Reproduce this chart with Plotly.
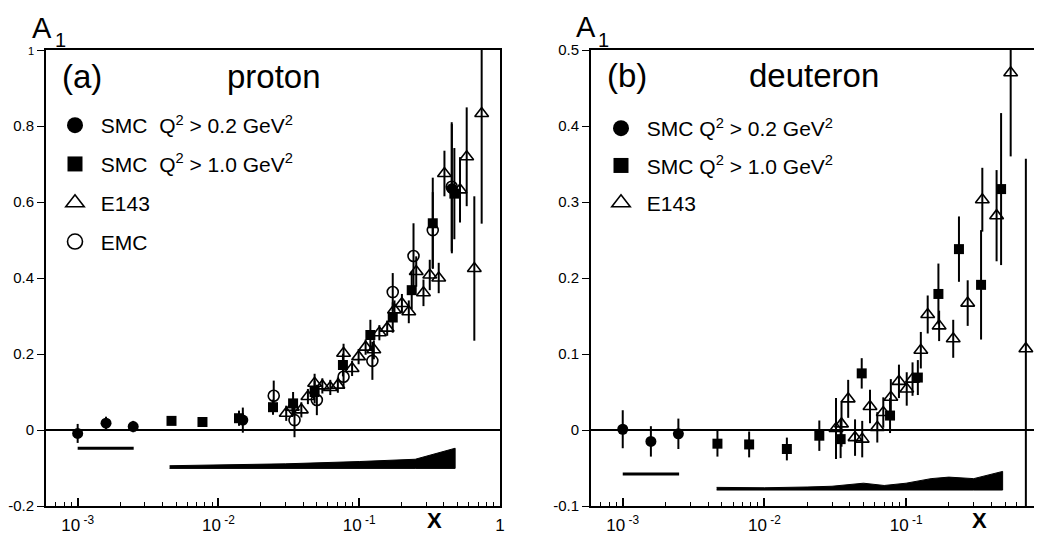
import plotly.graph_objects as go

# ---------------- data: proton ----------------
smc02_p_x = [0.001, 0.00159, 0.00248, 0.0149, 0.455]
smc02_p_y = [-0.009, 0.018, 0.009, 0.026, 0.635]
smc02_p_e = [0.025, 0.017, 0.015, 0.033, 0.17]

smc10_p_x = [0.00464, 0.0077, 0.014, 0.0244, 0.0339, 0.0482, 0.0766, 0.12, 0.173, 0.236, 0.333, 0.474]
smc10_p_y = [0.024, 0.021, 0.031, 0.06, 0.07, 0.10, 0.171, 0.25, 0.296, 0.368, 0.544, 0.622]
smc10_p_e = [0.008, 0.008, 0.02, 0.02, 0.03, 0.03, 0.03, 0.04, 0.04, 0.05, 0.12, 0.12]

e143_p_x = [0.0303, 0.0335, 0.0388, 0.0432, 0.0482, 0.0547, 0.0623, 0.0705, 0.0774, 0.089,
            0.099, 0.111, 0.127, 0.139, 0.158, 0.178, 0.201, 0.225, 0.254, 0.286,
            0.317, 0.367, 0.403, 0.52, 0.58, 0.657, 0.741]
e143_p_y = [0.044, 0.06, 0.053, 0.088, 0.123, 0.116, 0.112, 0.118, 0.202, 0.162,
            0.193, 0.218, 0.211, 0.256, 0.268, 0.316, 0.333, 0.311, 0.417, 0.361,
            0.408, 0.40, 0.675, 0.632, 0.719, 0.425, 0.833]
e143_p_e = [0.02, 0.02, 0.02, 0.02, 0.025, 0.02, 0.02, 0.02, 0.025, 0.02,
            0.02, 0.02, 0.025, 0.02, 0.02, 0.025, 0.025, 0.03, 0.04, 0.035,
            0.04, 0.04, 0.06, 0.086, 0.13, 0.19, 0.29]

emc_p_x = [0.0247, 0.0347, 0.05, 0.0774, 0.124, 0.173, 0.243, 0.333, 0.454]
emc_p_y = [0.09, 0.026, 0.079, 0.14, 0.182, 0.363, 0.458, 0.526, 0.64]
emc_p_e = [0.04, 0.045, 0.04, 0.03, 0.05, 0.05, 0.086, 0.1, 0.17]

sys_p_x = [0.0045, 0.01, 0.03, 0.1, 0.2, 0.25, 0.48]
sys_p_top = [-0.094, -0.092, -0.089, -0.083, -0.079, -0.077, -0.048]
sys_p_bot = [-0.101, -0.101, -0.101, -0.101, -0.101, -0.101, -0.101]
sys_p_low_x = [0.001, 0.0025]
sys_p_low_y = [-0.048, -0.048]

# ---------------- data: deuteron ----------------
smc02_d_x = [0.001, 0.00158, 0.00247]
smc02_d_y = [0.001, -0.015, -0.005]
smc02_d_e = [0.025, 0.02, 0.02]

smc10_d_x = [0.00466, 0.0078, 0.0144, 0.0244, 0.0345, 0.0486, 0.077, 0.121, 0.169, 0.236, 0.338, 0.468]
smc10_d_y = [-0.018, -0.019, -0.025, -0.0075, -0.012, 0.0745, 0.019, 0.069, 0.179, 0.238, 0.191, 0.317]
smc10_d_e = [0.017, 0.017, 0.015, 0.02, 0.025, 0.02, 0.023, 0.023, 0.04, 0.043, 0.072, 0.1]

e143_d_x = [0.032, 0.035, 0.039, 0.0436, 0.049, 0.0556, 0.0626, 0.069, 0.078, 0.089, 0.101,
            0.111, 0.127, 0.142, 0.171, 0.215, 0.272, 0.345, 0.435, 0.547, 0.70]
e143_d_y = [0.002, 0.008, 0.041, -0.01, -0.012, 0.031, 0.0035, 0.023, 0.043, 0.064, 0.054,
            0.067, 0.105, 0.152, 0.137, 0.12, 0.167, 0.303, 0.282, 0.47, 0.107]
e143_d_e = [0.04, 0.03, 0.025, 0.024, 0.024, 0.022, 0.02, 0.02, 0.024, 0.022, 0.022,
            0.022, 0.024, 0.025, 0.02, 0.025, 0.03, 0.042, 0.06, 0.11, 0.25]

sys_d_x = [0.0046, 0.01, 0.02, 0.03, 0.05, 0.07, 0.1, 0.15, 0.2, 0.3, 0.48]
sys_d_top = [-0.0755, -0.076, -0.075, -0.074, -0.070, -0.073, -0.070, -0.064, -0.062, -0.064, -0.0545]
sys_d_bot = [-0.079] * 11
sys_d_low_x = [0.001, 0.0025]
sys_d_low_y = [-0.058, -0.058]

# tick labels
p_ytick_vals = [-0.2, 0, 0.2, 0.4, 0.6, 0.8, 1]
p_ytick_text = ["-0.2", "0", "0.2", "0.4", "0.6", "0.8", "<span style='font-size:11px'>1</span>"]
d_ytick_vals = [-0.1, 0, 0.1, 0.2, 0.3, 0.4, 0.5]
d_ytick_text = ["-0.1", "0", "0.1", "0.2", "0.3", "0.4", "0.5"]
p_xtick_vals = [1e-3, 1e-2, 1e-1, 1]
p_xtick_text = ["10<sup> -3</sup>", "10<sup> -2</sup>", "10<sup> -1</sup>", "1"]
d_xtick_vals = [1e-3, 1e-2, 1e-1]
d_xtick_text = ["10<sup> -3</sup>", "10<sup> -2</sup>", "10<sup> -1</sup>"]

NB = "\u00a0"
lab_smc02_p = f"{NB}SMC{NB}{NB}Q<sup>2</sup> > 0.2 GeV<sup>2</sup>"
lab_smc10_p = f"{NB}SMC{NB}{NB}Q<sup>2</sup> > 1.0 GeV<sup>2</sup>"
lab_e143_p = f"{NB}E143"
lab_emc_p = f"{NB}EMC"
lab_smc02_d = f"{NB}SMC Q<sup>2</sup> > 0.2 GeV<sup>2</sup>"
lab_smc10_d = f"{NB}SMC Q<sup>2</sup> > 1.0 GeV<sup>2</sup>"
lab_e143_d = f"{NB}E143"

FONT = "Liberation Sans, Arial, Helvetica, sans-serif"

fig = go.Figure()


def err(arr):
    return dict(type="data", array=arr, visible=True, width=0, thickness=2, color="black")


def band(x, top, bot, xa, ya):
    fig.add_trace(go.Scatter(x=list(x) + list(x)[::-1], y=list(top) + list(bot)[::-1],
                             fill="toself", fillcolor="black", mode="lines",
                             line=dict(color="black", width=1), showlegend=False,
                             hoverinfo="skip", xaxis=xa, yaxis=ya))


SYM = {
    "smc02": dict(symbol="circle", color="black"),
    "smc10": dict(symbol="square", color="black"),
    "e143": dict(symbol="triangle-up-open", color="black", line=dict(width=1.6, color="black")),
    "emc": dict(symbol="circle-open", color="black", line=dict(width=1.6, color="black")),
}
DATA_SIZE = {"smc02": 11, "smc10": 10, "e143": 12, "emc": 11}
LEG_SIZE = {"smc02": 16, "smc10": 15, "e143": 17, "emc": 15}


def series(x, y, e, kind, xa, ya):
    fig.add_trace(go.Scatter(x=x, y=y, error_y=err(e), mode="markers",
                             marker=dict(SYM[kind], size=DATA_SIZE[kind]),
                             showlegend=False, xaxis=xa, yaxis=ya))


def legend_entry(kind, name, leg, grp, xa, ya):
    fig.add_trace(go.Scatter(x=[None], y=[None], mode="markers",
                             marker=dict(SYM[kind], size=LEG_SIZE[kind]),
                             name=name, legend=leg, legendgroup=grp, showlegend=True,
                             xaxis=xa, yaxis=ya))


# proton
band(sys_p_x, sys_p_top, sys_p_bot, "x", "y")
fig.add_trace(go.Scatter(x=sys_p_low_x, y=sys_p_low_y, mode="lines",
                         line=dict(color="black", width=3), showlegend=False, xaxis="x", yaxis="y"))
series(smc02_p_x, smc02_p_y, smc02_p_e, "smc02", "x", "y")
series(smc10_p_x, smc10_p_y, smc10_p_e, "smc10", "x", "y")
series(e143_p_x, e143_p_y, e143_p_e, "e143", "x", "y")
series(emc_p_x, emc_p_y, emc_p_e, "emc", "x", "y")

# deuteron
band(sys_d_x, sys_d_top, sys_d_bot, "x2", "y2")
fig.add_trace(go.Scatter(x=sys_d_low_x, y=sys_d_low_y, mode="lines",
                         line=dict(color="black", width=3), showlegend=False, xaxis="x2", yaxis="y2"))
series(smc02_d_x, smc02_d_y, smc02_d_e, "smc02", "x2", "y2")
series(smc10_d_x, smc10_d_y, smc10_d_e, "smc10", "x2", "y2")
series(e143_d_x, e143_d_y, e143_d_e, "e143", "x2", "y2")

# legend entries
legend_entry("smc02", lab_smc02_p, "legend", "a1", "x", "y")
legend_entry("smc10", lab_smc10_p, "legend", "a2", "x", "y")
legend_entry("e143", lab_e143_p, "legend", "a3", "x", "y")
legend_entry("emc", lab_emc_p, "legend", "a4", "x", "y")
legend_entry("smc02", lab_smc02_d, "legend2", "b1", "x2", "y2")
legend_entry("smc10", lab_smc10_d, "legend2", "b2", "x2", "y2")
legend_entry("e143", lab_e143_d, "legend2", "b3", "x2", "y2")

# page body has an 8px margin: the figure is sized to the visible window
OFF = 8
W, H = 1042 - OFF, 536 - OFF


def px(x):
    return (x - OFF) / W


def py(y):
    return 1 - (y - OFF) / H


ydom = [py(506), py(50)]

xcommon = dict(type="log", showline=True, linecolor="black", linewidth=2, mirror=True,
               ticks="inside", ticklen=8, tickwidth=1.5, tickcolor="black", showgrid=False,
               zeroline=False, automargin=False,
               tickfont=dict(family=FONT, size=17, color="black"),
               ticklabelstandoff=3,
               minor=dict(ticks="inside", ticklen=4, tickwidth=1, tickcolor="black",
                          dtick="D1", showgrid=False))
ycommon = dict(showline=True, linecolor="black", linewidth=2, mirror=True,
               ticks="outside", ticklen=7, tickwidth=1.2, tickcolor="black", showgrid=False,
               zeroline=True, zerolinecolor="black", zerolinewidth=1.6, automargin=False,
               tickfont=dict(family=FONT, size=15, color="black"))

fig.update_layout(
    template="none",
    width=W, height=H, margin=dict(l=0, r=0, t=0, b=0, pad=0),
    paper_bgcolor="white", plot_bgcolor="white",
    font=dict(family=FONT, color="black"),
    xaxis=dict(xcommon, domain=[px(46), px(500)], range=[-3.225, 0.0],
               tickvals=p_xtick_vals, ticktext=p_xtick_text, anchor="y"),
    yaxis=dict(ycommon, domain=ydom, range=[-0.2, 1.0],
               tickvals=p_ytick_vals, ticktext=p_ytick_text, anchor="x"),
    xaxis2=dict(xcommon, domain=[px(591), 1.0], range=[-3.224, -0.041],
                tickvals=d_xtick_vals, ticktext=d_xtick_text, anchor="y2"),
    yaxis2=dict(ycommon, domain=ydom, range=[-0.1, 0.5],
                tickvals=d_ytick_vals, ticktext=d_ytick_text, anchor="x2"),
    legend=dict(x=px(55), y=py(105), xanchor="left", yanchor="top",
                font=dict(family=FONT, size=21, color="black"), bgcolor="rgba(0,0,0,0)",
                tracegroupgap=8.5, itemclick=False),
    legend2=dict(x=px(601), y=py(108), xanchor="left", yanchor="top",
                 font=dict(family=FONT, size=21, color="black"), bgcolor="rgba(0,0,0,0)",
                 tracegroupgap=7, itemclick=False),
    showlegend=True,
)

ann = [
    dict(text="A", x=px(30), y=py(28), font=dict(size=29)),
    dict(text="1", x=px(53), y=py(40), font=dict(size=20)),
    dict(text="A", x=px(574), y=py(27), font=dict(size=29)),
    dict(text="1", x=px(596), y=py(40), font=dict(size=20)),
    dict(text="(a)", x=px(60), y=py(76), font=dict(size=33)),
    dict(text="proton", x=px(225), y=py(76), font=dict(size=33)),
    dict(text="(b)", x=px(605), y=py(75), font=dict(size=33)),
    dict(text="deuteron", x=px(747), y=py(75), font=dict(size=33)),
    dict(text="<b>X</b>", x=px(425), y=py(520), font=dict(size=22)),
    dict(text="<b>X</b>", x=px(970), y=py(520), font=dict(size=22)),
]
for a in ann:
    a.update(xref="paper", yref="paper", xanchor="left", yanchor="middle", showarrow=False)
    a["font"].update(family=FONT, color="black")
fig.update_layout(annotations=ann)

fig.write_html("out.html")
